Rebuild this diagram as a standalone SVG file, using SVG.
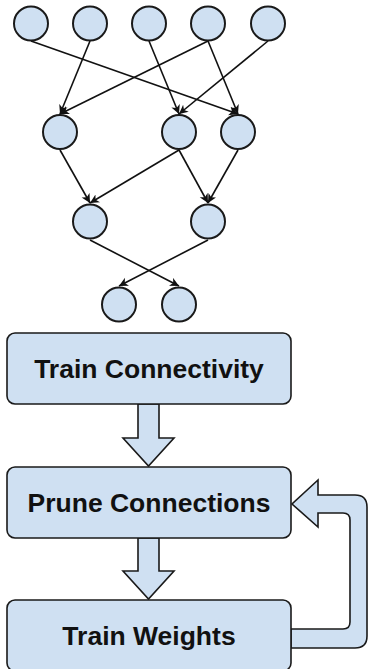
<svg xmlns="http://www.w3.org/2000/svg" width="368" height="669" viewBox="0 0 368 669">
  <style>
    .node circle { fill: #cfe0f2; stroke: #1a1a1a; stroke-width: 2; }
    .edge { stroke: #111; stroke-width: 1.6; fill: none; marker-end: url(#arr); }
    .box rect { fill: #cfe0f2; stroke: #1a1a1a; stroke-width: 1.6; }
    .box text { font-family: "Liberation Sans", Arial, sans-serif; font-weight: bold; font-size: 26.5px; fill: #111; text-anchor: middle; }
    .bigarrow { fill: #cfe0f2; stroke: #1a1a1a; stroke-width: 1.6; stroke-linejoin: miter; }
  </style>
  <defs>
    <marker id="arr" markerUnits="userSpaceOnUse" markerWidth="10" markerHeight="10" refX="9" refY="4.5" orient="auto">
      <path d="M0,0 L9,4.5 L0,9 L2.5,4.5 Z" fill="#111"/>
    </marker>
  </defs>

  <g id="connectors">
    <line class="edge" x1="31" y1="41" x2="238" y2="114"/>
    <line class="edge" x1="90" y1="41" x2="60" y2="114"/>
    <line class="edge" x1="149" y1="41" x2="179" y2="114"/>
    <line class="edge" x1="208" y1="41" x2="60" y2="114"/>
    <line class="edge" x1="208" y1="41" x2="238" y2="114"/>
    <line class="edge" x1="268" y1="41" x2="179" y2="114"/>
    <line class="edge" x1="60" y1="150" x2="90" y2="203"/>
    <line class="edge" x1="179" y1="150" x2="90" y2="203"/>
    <line class="edge" x1="179" y1="150" x2="208" y2="203"/>
    <line class="edge" x1="238" y1="150" x2="208" y2="203"/>
    <line class="edge" x1="90" y1="240" x2="179" y2="286"/>
    <line class="edge" x1="208" y1="240" x2="119" y2="286"/>
    <path class="bigarrow" d="M138 404 L159 404 L159 438 L174 438 L148.5 466 L123 438 L138 438 Z"/>
    <path class="bigarrow" d="M138 538 L159 538 L159 571 L174 571 L148.5 599 L123 571 L138 571 Z"/>
    <path class="bigarrow" d="M291 629 L343 629 Q350 629 350 622 L350 520 Q350 513 343 513 L318 513 L318 527 L292 504 L318 480 L318 495 L355 495 Q367 495 367 507 L367 636 Q367 648 355 648 L291 648 Z"/>
  </g>

  <g id="n1" class="node"><circle cx="31" cy="23.5" r="17"/></g>
  <g id="n2" class="node"><circle cx="90" cy="23.5" r="17"/></g>
  <g id="n3" class="node"><circle cx="149" cy="23.5" r="17"/></g>
  <g id="n4" class="node"><circle cx="208" cy="23.5" r="17"/></g>
  <g id="n5" class="node"><circle cx="268" cy="23.5" r="17"/></g>
  <g id="n6" class="node"><circle cx="60" cy="132" r="17"/></g>
  <g id="n7" class="node"><circle cx="179" cy="132" r="17"/></g>
  <g id="n8" class="node"><circle cx="238" cy="132" r="17"/></g>
  <g id="n9" class="node"><circle cx="90" cy="221.5" r="17"/></g>
  <g id="n10" class="node"><circle cx="208" cy="221.5" r="17"/></g>
  <g id="n11" class="node"><circle cx="119" cy="304.5" r="17"/></g>
  <g id="n12" class="node"><circle cx="179" cy="304.5" r="17"/></g>

  <g id="train-connectivity" class="box">
    <rect x="7" y="333" width="284" height="71" rx="8"/>
    <text x="149" y="378">Train Connectivity</text>
  </g>
  <g id="prune-connections" class="box">
    <rect x="7" y="467" width="284" height="71" rx="8"/>
    <text x="149" y="512">Prune Connections</text>
  </g>
  <g id="train-weights" class="box">
    <rect x="7" y="600" width="284" height="71" rx="8"/>
    <text x="149" y="645">Train Weights</text>
  </g>
</svg>
